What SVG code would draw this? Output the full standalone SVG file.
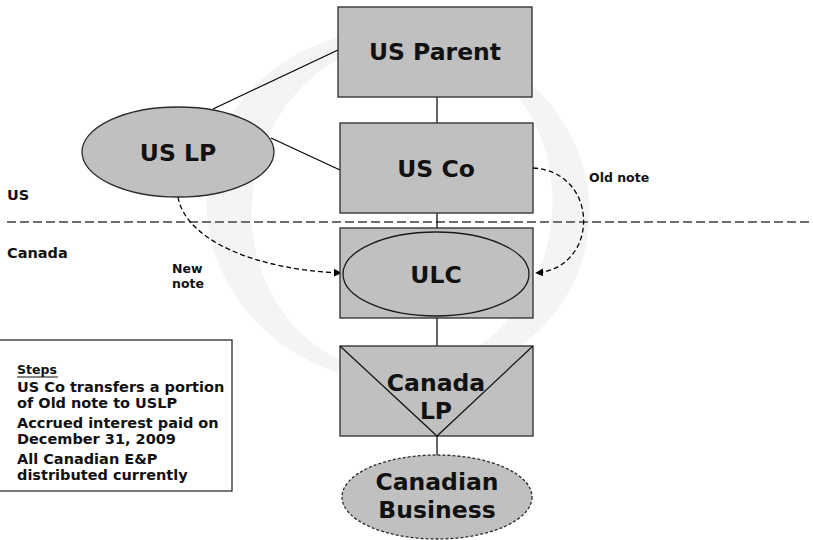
<svg xmlns="http://www.w3.org/2000/svg" width="813" height="540" viewBox="0 0 813 540">
  <style>
    .node { fill: #c0c0c0; stroke: #2b2b2b; stroke-width: 1.3; }
    .inner { fill: none; stroke: #1a1a1a; stroke-width: 1.3; }
    .big { font-family: "DejaVu Sans", Verdana, sans-serif; font-weight: bold; font-size: 23.5px; fill: #111; text-anchor: middle; }
    .small { font-family: "DejaVu Sans", Verdana, sans-serif; font-weight: bold; font-size: 14.5px; fill: #111; }
    .tiny { font-family: "DejaVu Sans", Verdana, sans-serif; font-weight: bold; font-size: 12.5px; fill: #111; }
    .link { fill: none; stroke: #000; stroke-width: 1.2; }
    .note { fill: none; stroke: #000; stroke-width: 1.3; stroke-dasharray: 5 3; }
    .border { fill: none; stroke: #6e6e6e; stroke-width: 1.8; stroke-dasharray: 9 4; }
  </style>
  <defs>
    <marker id="arrow" viewBox="0 0 10 10" refX="9" refY="5" markerWidth="8" markerHeight="8" markerUnits="userSpaceOnUse" orient="auto">
      <path d="M0,0 L10,5 L0,10 z" fill="#000"/>
    </marker>
  </defs>

  <rect width="813" height="540" fill="#fff"/>

  <!-- faint background emblem: italic ring -->
  <g id="emblem">
    <path fill="#f4f4f4" fill-rule="evenodd" d="M590,207 A192,176 0 1 1 206,207 A192,176 0 1 1 590,207 Z M402,40 A150,166 0 1 0 402,372 A150,166 0 1 0 402,40 Z" transform="rotate(10 398 207)"/>
  </g>

  <!-- country border -->
  <line class="border" x1="7" y1="222" x2="813" y2="222"/>
  <text class="small" x="7" y="200">US</text>
  <text class="small" x="7" y="258">Canada</text>

  <!-- connectors -->
  <g id="connectors">
    <line class="link" x1="213" y1="109" x2="338" y2="50"/>
    <line class="link" x1="271" y1="138" x2="340" y2="170"/>
    <line class="link" x1="437" y1="97" x2="437" y2="123"/>
    <line class="link" x1="437" y1="213" x2="437" y2="228"/>
    <line class="link" x1="437" y1="318" x2="437" y2="346"/>
    <line class="link" x1="437" y1="436" x2="437" y2="456"/>
    <path class="note" d="M533,168 C600,172 600,268 536,273" marker-end="url(#arrow)"/>
    <path class="note" d="M178,197 C186,242 260,270 341,273" marker-end="url(#arrow)"/>
    <text class="tiny" x="589" y="182">Old note</text>
    <text class="tiny" x="172" y="273">New</text>
    <text class="tiny" x="172" y="288">note</text>
  </g>

  <g id="us-parent">
    <rect class="node" x="338" y="7" width="194" height="90"/>
    <text class="big" x="435" y="60">US Parent</text>
  </g>

  <g id="us-lp">
    <ellipse class="node" cx="178" cy="152" rx="96" ry="45"/>
    <text class="big" x="178" y="161">US LP</text>
  </g>

  <g id="us-co">
    <rect class="node" x="340" y="123" width="193" height="90"/>
    <text class="big" x="436" y="177">US Co</text>
  </g>

  <g id="ulc">
    <rect class="node" x="340" y="228" width="193" height="90"/>
    <ellipse class="inner" cx="436" cy="274" rx="93" ry="42"/>
    <text class="big" x="436" y="283">ULC</text>
  </g>

  <g id="canada-lp">
    <rect class="node" x="340" y="346" width="193" height="90"/>
    <polyline class="inner" points="340,346 437,436 533,346"/>
    <text class="big" x="436" y="391">Canada</text>
    <text class="big" x="436" y="419">LP</text>
  </g>

  <g id="canadian-business">
    <ellipse class="node" cx="437" cy="497" rx="95" ry="42" stroke-dasharray="3 2"/>
    <text class="big" x="437" y="490">Canadian</text>
    <text class="big" x="437" y="518">Business</text>
  </g>

  <g id="steps">
    <rect x="-1" y="340" width="233" height="151" fill="#fff" stroke="#2b2b2b" stroke-width="1.3"/>
    <text class="tiny" x="17" y="374" font-size="13">Steps</text>
    <line x1="17" y1="377" x2="58" y2="377" stroke="#111" stroke-width="1.2"/>
    <text class="small" x="17" y="392">US Co transfers a portion</text>
    <text class="small" x="17" y="408">of Old note to USLP</text>
    <text class="small" x="17" y="428">Accrued interest paid on</text>
    <text class="small" x="17" y="444">December 31, 2009</text>
    <text class="small" x="17" y="464">All Canadian E&amp;P</text>
    <text class="small" x="17" y="480">distributed currently</text>
  </g>
</svg>
